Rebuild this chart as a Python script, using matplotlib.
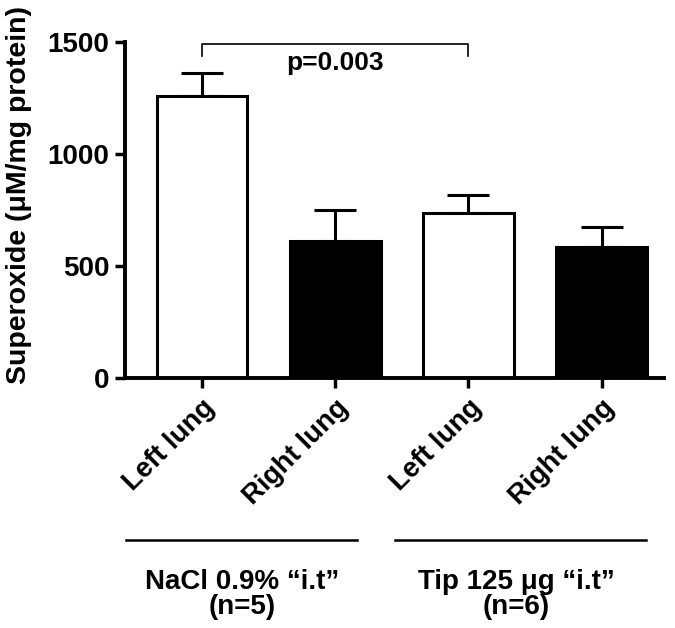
import matplotlib
matplotlib.use("Agg")
import matplotlib.pyplot as plt
import matplotlib.transforms as mtransforms

plt.rcParams['font.family'] = ['Liberation Sans', 'DejaVu Sans']
plt.rcParams['font.weight'] = 'bold'

categories = ["Left lung", "Right lung", "Left lung", "Right lung"]
values = [1260, 611, 737, 586]
errors = [100, 140, 82, 90]
fills = ["white", "black", "white", "black"]
group_titles = ["NaCl 0.9% \u201ci.t\u201d", "Tip 125 \u03bcg \u201ci.t\u201d"]
group_n = ["(n=5)", "(n=6)"]
yticks = [0, 500, 1000, 1500]
p_text = "p=0.003"

fig = plt.figure(figsize=(6.75, 6.28), dpi=100)
ax = fig.add_axes([0.185, 0.398, 0.799, 0.535])

x = list(range(len(values)))
ax.bar(x, values, width=0.68, color=fills, edgecolor="black", linewidth=2.2, zorder=2)
ax.errorbar(x, values, yerr=[[0]*len(errors), errors], fmt="none", ecolor="black",
            elinewidth=2.2, capsize=15, capthick=2.2, zorder=1)

ax.set_ylim(0, 1500)
ax.set_xlim(-0.58, 3.47)
ax.set_yticks(yticks)
ax.set_yticklabels([str(t) for t in yticks], fontsize=20, fontweight='bold')
ax.set_xticks(x)
ax.set_xticklabels(categories, rotation=45, ha='right', va='top', rotation_mode='anchor',
                   fontsize=20, fontweight='bold')
ax.tick_params(axis='both', direction='out', length=7, width=2.5, pad=4)
ax.tick_params(axis='x', pad=5)
for s in ['top', 'right']:
    ax.spines[s].set_visible(False)
for s in ['left', 'bottom']:
    ax.spines[s].set_linewidth(2.8)

# significance bracket
ax.plot([0, 0, 2, 2], [1440, 1490, 1490, 1440], color="black", lw=1.2, clip_on=False)
ax.text(1.0, 1405, p_text, ha='center', va='center', fontsize=19, fontweight='bold')

fig.text(0.028, 0.69, "Superoxide (\u03bcM/mg protein)", rotation=90, ha='center', va='center',
         fontsize=20.5, fontweight='bold')

trans = mtransforms.blended_transform_factory(ax.transData, ax.transAxes)
spans = [(-0.57, 1.16), (1.45, 3.33)]
centers = [0.30, 2.36]
for (a, b), c, g, n in zip(spans, centers, group_titles, group_n):
    ax.plot([a, b], [-0.482, -0.482], transform=trans, color="black", lw=1.8, clip_on=False)
    ax.text(c, -0.628, g, transform=trans, ha='center', va='baseline',
            fontsize=20, fontweight='bold')
    ax.text(c, -0.702, n, transform=trans, ha='center', va='baseline',
            fontsize=20, fontweight='bold')

fig.savefig("out.png", dpi=100, facecolor="white")
